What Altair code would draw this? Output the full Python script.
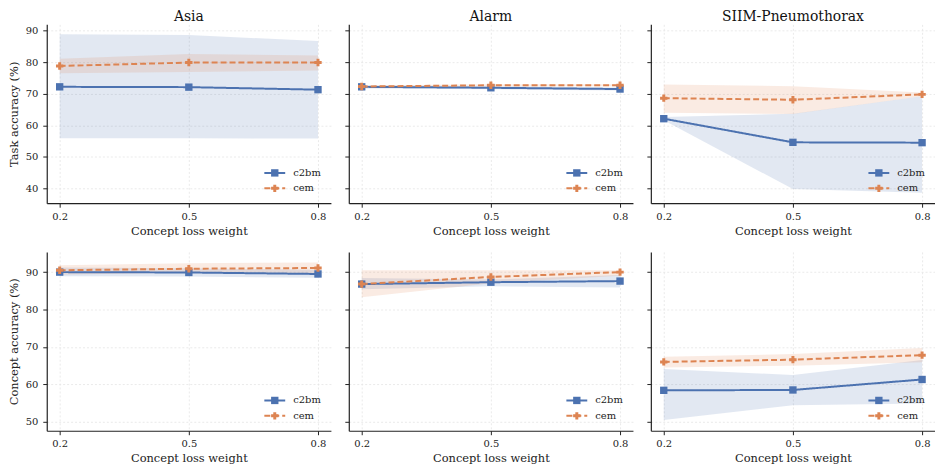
import altair as alt
import pandas as pd

FONT = "DejaVu Serif"
x_vals = [0.2, 0.5, 0.8]
methods = ["c2bm", "cem"]
colors = ["#4C72B0", "#DD8452"]
panels = ["Asia", "Alarm", "SIIM-Pneumothorax"]

# ---- Task accuracy (top row) ----
asia_task_c2bm = [72.2, 72.1, 71.3]
asia_task_c2bm_lo = [55.9, 55.9, 55.8]
asia_task_c2bm_hi = [88.9, 88.6, 86.7]
asia_task_cem = [78.8, 79.9, 79.9]
asia_task_cem_lo = [76.5, 76.9, 77.4]
asia_task_cem_hi = [81.1, 82.6, 82.1]

alarm_task_c2bm = [72.2, 71.9, 71.5]
alarm_task_c2bm_lo = [71.7, 71.4, 71.0]
alarm_task_c2bm_hi = [72.7, 72.4, 72.0]
alarm_task_cem = [72.3, 72.7, 72.7]
alarm_task_cem_lo = [72.0, 72.4, 72.4]
alarm_task_cem_hi = [72.6, 73.0, 73.0]

siim_task_c2bm = [62.1, 54.6, 54.5]
siim_task_c2bm_lo = [61.6, 39.8, 38.6]
siim_task_c2bm_hi = [62.6, 63.7, 69.2]
siim_task_cem = [68.6, 68.1, 69.8]
siim_task_cem_lo = [64.0, 63.6, 69.2]
siim_task_cem_hi = [72.9, 72.4, 70.4]

# ---- Concept accuracy (bottom row) ----
asia_concept_c2bm = [90.0, 89.9, 89.5]
asia_concept_c2bm_lo = [88.9, 88.8, 88.5]
asia_concept_c2bm_hi = [91.2, 91.0, 90.6]
asia_concept_cem = [90.5, 90.9, 91.1]
asia_concept_cem_lo = [89.3, 89.9, 89.7]
asia_concept_cem_hi = [91.8, 92.4, 92.6]

alarm_concept_c2bm = [86.8, 87.3, 87.6]
alarm_concept_c2bm_lo = [85.4, 86.2, 85.9]
alarm_concept_c2bm_hi = [88.4, 88.0, 89.2]
alarm_concept_cem = [86.8, 88.7, 90.0]
alarm_concept_cem_lo = [83.3, 87.0, 89.0]
alarm_concept_cem_hi = [90.5, 90.5, 90.5]

siim_concept_c2bm = [58.4, 58.5, 61.3]
siim_concept_c2bm_lo = [50.5, 54.4, 54.9]
siim_concept_c2bm_hi = [64.1, 62.5, 66.5]
siim_concept_cem = [66.0, 66.6, 67.8]
siim_concept_cem_lo = [64.5, 65.0, 65.9]
siim_concept_cem_hi = [67.4, 68.1, 69.7]

task_domain = [35.3, 92.0]
task_ticks = [40, 50, 60, 70, 80, 90]
concept_domain = [47.6, 95.4]
concept_ticks = [50, 60, 70, 80, 90]

W = 286
H = 180


def make_df(c2bm, c2bm_lo, c2bm_hi, cem, cem_lo, cem_hi):
    rows = []
    for m, mean, lo, hi in [("c2bm", c2bm, c2bm_lo, c2bm_hi), ("cem", cem, cem_lo, cem_hi)]:
        for x, a, b, c in zip(x_vals, mean, lo, hi):
            rows.append({"x": x, "method": m, "mean": a, "lo": b, "hi": c})
    return pd.DataFrame(rows)


def legend_layer():
    layers = []
    dashes = [[1, 0], [6, 3]]
    shapes = ["square", "cross"]
    one = pd.DataFrame({"a": [0]})
    for i, m in enumerate(methods):
        yy = H - 30.5 + 15.5 * i
        layers.append(alt.Chart(one).mark_rule(color=colors[i], strokeWidth=2, strokeDash=dashes[i]).encode(
            x=alt.value(W - 67), x2=alt.value(W - 46), y=alt.value(yy)))
        layers.append(alt.Chart(one).mark_point(color=colors[i], filled=True, opacity=1, size=55, shape=shapes[i]).encode(
            x=alt.value(W - 56.5), y=alt.value(yy)))
        layers.append(alt.Chart(one).mark_text(text=m, align="left", baseline="middle", font=FONT, fontSize=10, color="#222").encode(
            x=alt.value(W - 38), y=alt.value(yy)))
    return layers


def panel(df, title, ydomain, yticks, show_y, ytitle):
    xenc = alt.X("x:Q", scale=alt.Scale(domain=[0.17, 0.83], nice=False, zero=False),
                 axis=alt.Axis(values=x_vals, format=".1f", title="Concept loss weight", grid=True))
    yaxis = alt.Axis(values=yticks, labels=show_y, title=ytitle if show_y else None, grid=True)
    yscale = alt.Scale(domain=ydomain, nice=False, zero=False)
    color = alt.Color("method:N", scale=alt.Scale(domain=methods, range=colors), legend=None)
    base = alt.Chart(df)
    area = base.mark_area(opacity=0.16).encode(
        x=xenc, y=alt.Y("lo:Q", scale=yscale, axis=yaxis), y2="hi:Q", color=color)
    line = base.mark_line(strokeWidth=2).encode(
        x=xenc, y=alt.Y("mean:Q", scale=yscale, axis=yaxis), color=color,
        strokeDash=alt.StrokeDash("method:N", scale=alt.Scale(domain=methods, range=[[1, 0], [6, 3]]), legend=None))
    pts = base.mark_point(filled=True, size=55, opacity=1).encode(
        x=xenc, y=alt.Y("mean:Q", scale=yscale, axis=yaxis), color=color,
        shape=alt.Shape("method:N", scale=alt.Scale(domain=methods, range=["square", "cross"]), legend=None))
    layers = [area, line, pts] + legend_layer()
    props = dict(width=W, height=H)
    if title:
        props["title"] = alt.TitleParams(text=title, offset=0.01)
    return alt.layer(*layers).properties(**props)


top = alt.hconcat(
    panel(make_df(asia_task_c2bm, asia_task_c2bm_lo, asia_task_c2bm_hi, asia_task_cem, asia_task_cem_lo, asia_task_cem_hi),
          panels[0], task_domain, task_ticks, True, "Task accuracy (%)"),
    panel(make_df(alarm_task_c2bm, alarm_task_c2bm_lo, alarm_task_c2bm_hi, alarm_task_cem, alarm_task_cem_lo, alarm_task_cem_hi),
          panels[1], task_domain, task_ticks, False, None),
    panel(make_df(siim_task_c2bm, siim_task_c2bm_lo, siim_task_c2bm_hi, siim_task_cem, siim_task_cem_lo, siim_task_cem_hi),
          panels[2], task_domain, task_ticks, False, None),
    spacing=13,
)
bottom = alt.hconcat(
    panel(make_df(asia_concept_c2bm, asia_concept_c2bm_lo, asia_concept_c2bm_hi, asia_concept_cem, asia_concept_cem_lo, asia_concept_cem_hi),
          None, concept_domain, concept_ticks, True, "Concept accuracy (%)"),
    panel(make_df(alarm_concept_c2bm, alarm_concept_c2bm_lo, alarm_concept_c2bm_hi, alarm_concept_cem, alarm_concept_cem_lo, alarm_concept_cem_hi),
          None, concept_domain, concept_ticks, False, None),
    panel(make_df(siim_concept_c2bm, siim_concept_c2bm_lo, siim_concept_c2bm_hi, siim_concept_cem, siim_concept_cem_lo, siim_concept_cem_hi),
          None, concept_domain, concept_ticks, False, None),
    spacing=13,
)

chart = alt.vconcat(top, bottom, spacing=15).properties(padding=0).configure_view(stroke=None).configure_axis(
    domainColor="#222", domainWidth=1.2, tickColor="#222", tickSize=4, tickWidth=1,
    labelFont=FONT, labelFontSize=10, labelColor="#222", labelPadding=4,
    titleFont=FONT, titleFontSize=11.5, titleFontWeight="normal", titleColor="#222",
    gridColor="#e4e4e4", gridDash=[2, 2], gridWidth=0.8,
).configure_axisY(titlePadding=6, labelPadding=5).configure_axisX(titlePadding=4).configure_title(
    font=FONT, fontSize=14, fontWeight="normal", color="#111", anchor="middle",
)

chart.save("out.html", embed_options={"renderer": "svg", "actions": False})
